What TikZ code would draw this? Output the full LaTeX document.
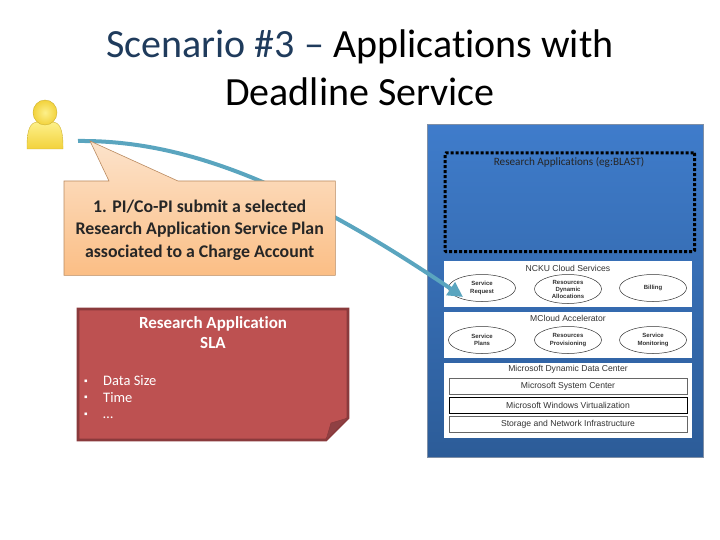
\documentclass[tikz,border=0pt]{standalone}
\usepackage{fontspec}
\setmainfont{Carlito}[Ligatures=CommonOff]
\newfontfamily\archfont{Liberation Sans}
\usetikzlibrary{positioning,arrows.meta,shapes.geometric}
\definecolor{titlenavy}{HTML}{1F3B5C}
\definecolor{flowteal}{HTML}{5AA5BF}
\definecolor{calloutedge}{HTML}{B98A60}
\definecolor{calloutlight}{HTML}{FCE3CB}
\definecolor{calloutdark}{HTML}{FBBE85}
\definecolor{slared}{HTML}{BD5151}
\definecolor{slaedge}{HTML}{8A3A3C}
\definecolor{slafold}{HTML}{8F4043}
\definecolor{stackedge}{HTML}{7F8FA6}
\definecolor{stacktop}{HTML}{3F7CCB}
\definecolor{stackbottom}{HTML}{2C5C98}
\definecolor{lineblack}{HTML}{333333}
\definecolor{persongold}{HTML}{F2D23C}
\definecolor{personpale}{HTML}{FDF08A}
\tikzset{
  layerbox/.style={draw=none,fill=white,minimum width=248,inner sep=0pt,anchor=north west},
  layertitle/.style={font=\archfont\fontsize{8.6}{9}\selectfont,text=lineblack,inner sep=0pt},
  service/.style={draw=lineblack,line width=.5pt,fill=white,ellipse,minimum width=67,minimum height=27,inner sep=0pt,
    align=center,font=\archfont\fontsize{6}{7.5}\selectfont\bfseries,text=lineblack},
  infrabar/.style={draw=black!60,line width=.9pt,fill=white,minimum width=238,minimum height=16,inner sep=0pt,
    font=\archfont\fontsize{8.6}{9}\selectfont,text=lineblack},
  bullettext/.style={anchor=west,inner sep=0pt,text=white,font=\fontsize{14.5}{16}\selectfont},
  bulletmark/.style={anchor=center,inner sep=0pt,text=white,font=\fontsize{10}{10}\selectfont}
}
\begin{document}
\begin{tikzpicture}[x=1pt,y=-1pt]
  \useasboundingbox (0,0) rectangle (720,540);
  % title
  \node (title) at (360,67.5) [align=center,inner sep=0pt,font=\fontsize{40}{48}\selectfont]
    {\textcolor{titlenavy}{Scenario \#3 --} Applications with\\Deadline Service};
  % person
  \shade[top color=personpale,bottom color=persongold,draw=persongold!85!black,line width=.4pt]
    (27,146) .. controls (27,130) and (30,122) .. (38,122) -- (52,122)
    .. controls (60,122) and (63,130) .. (63,146) -- (63,149) -- (27,149) -- cycle;
  \shade[inner color=personpale,outer color=persongold,draw=persongold!85!black,line width=.4pt]
    (45,112.5) ellipse (12 and 12.5);
  % software stack
  \node (stack) at (427,124) [anchor=north west,minimum width=276,minimum height=333,inner sep=0pt,
    top color=stacktop,bottom color=stackbottom,draw=stackedge,line width=.8pt] {};
  \node (apps) at (443.5,151.5) [anchor=north west,minimum width=249.5,minimum height=98.5,inner sep=0pt,
    draw=black,line width=3pt,dash pattern=on 3pt off 2pt,rounded corners=1pt] {};
  \node (appstitle) at (569,162) [inner sep=0pt,font=\fontsize{11.2}{12}\selectfont,text=black!85] {Research Applications (eg:BLAST)};
  % cloud services
  \node (ncku) at (444,261) [layerbox,minimum height=46] {};
  \node (nckutitle) at (568,268) [layertitle] {NCKU Cloud Services};
  \node (request) at (482,288) [service] {Service\\Request};
  \node (dynamic) at (568,289) [service,minimum height=29,font=\archfont\fontsize{6}{7}\selectfont\bfseries] {Resources\\Dynamic\\Allocations};
  \node (billing) at (653,288) [service] {Billing};
  % accelerator
  \node (accel) at (444,312) [layerbox,minimum height=46] {};
  \node (acceltitle) at (568,318.5) [layertitle] {MCloud Accelerator};
  \node (plans) at (482,340) [service] {Service\\Plans};
  \node (provision) at (568,340) [service] {Resources\\Provisioning};
  \node (monitor) at (653,340) [service] {Service\\Monitoring};
  % data center
  \node (center) at (444,363) [layerbox,minimum height=75] {};
  \node (centertitle) at (568,369) [layertitle] {Microsoft Dynamic Data Center};
  \node (syscenter) at (568,386) [infrabar] {Microsoft System Center};
  \node (virtual) at (568,405) [infrabar,draw=black] {Microsoft Windows Virtualization};
  \node (storage) at (568,424) [infrabar] {Storage and Network Infrastructure};
  % flow arrow
  \coordinate (flowstart) at (78,141);
  \coordinate (flowend) at (463,297);
  \draw[flowteal,line width=4pt,-{Triangle[length=15pt,width=15pt]}]
    (flowstart) .. controls (180,140) and (290,180) .. (flowend);
  % callout
  \node (submit) at (64,181) [anchor=north west,minimum width=271,minimum height=94,inner sep=0pt] {};
  \coordinate (tailtip) at (90,141);
  \shade[top color=calloutlight,bottom color=calloutdark,draw=calloutedge,line width=.6pt]
    (submit.north west) -- (109,181) -- (tailtip) -- (178,181) -- (submit.north east)
    -- (submit.south east) -- (submit.south west) -- cycle;
  \node (submittext) at ([yshift=-2]submit.center) [align=center,inner sep=0pt,text=black!85,
    font=\fontsize{17.8}{22.2}\selectfont\bfseries]
    {1. PI/Co-PI submit a selected\\Research Application Service Plan\\associated to a Charge Account};
  % sla note
  \fill[slared,draw=slaedge,line width=2.6pt]
    (78,309) -- (348,309) -- (348,418) -- (326,440) -- (78,440) -- cycle;
  \fill[slafold,draw=slaedge,line width=.5pt] (348,418) -- (331,423) -- (326,440) -- cycle;
  \node (slatitle) at (213,332.5) [align=center,inner sep=0pt,text=white,
    font=\fontsize{17}{20}\selectfont\bfseries] {Research Application\\SLA};
  \node (bulleta) at (86,382) [bulletmark] {▪};
  \node (bulletb) at (86,398.5) [bulletmark] {▪};
  \node (bulletc) at (86,415) [bulletmark] {▪};
  \node (sizetext) at (103,381) [bullettext] {Data Size};
  \node (timetext) at (103,398) [bullettext] {Time};
  \node (moretext) at (103,418) [bullettext] {…};
\end{tikzpicture}
\end{document}
